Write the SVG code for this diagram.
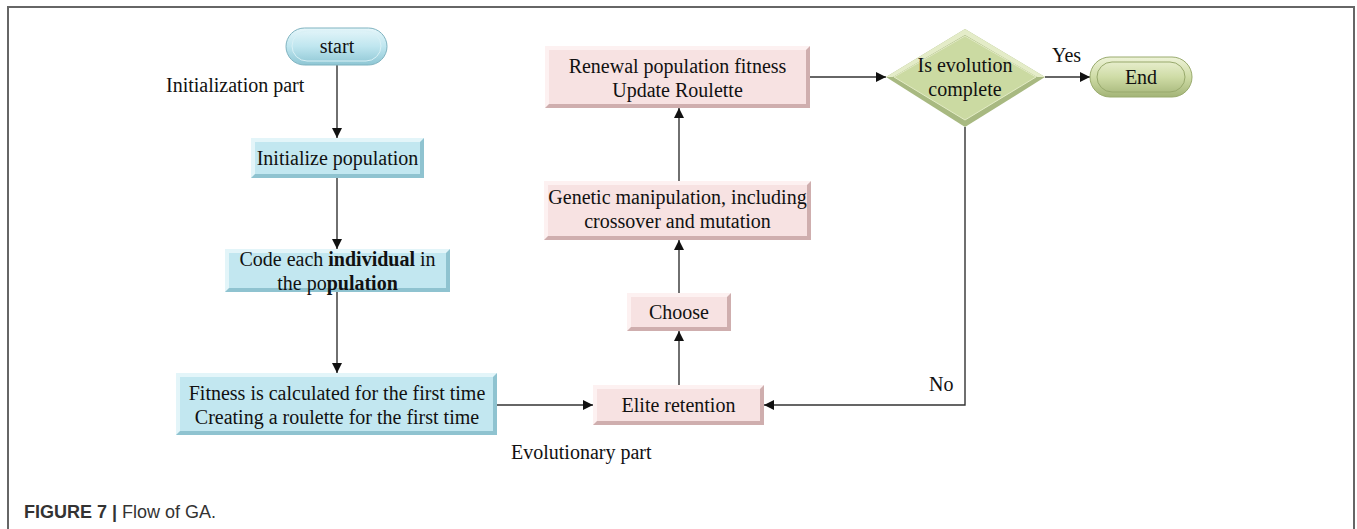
<svg xmlns="http://www.w3.org/2000/svg" width="1357" height="529" viewBox="0 0 1357 529">
  <defs>
    <marker id="arrow" viewBox="0 0 10 10" refX="10" refY="5" markerWidth="10" markerHeight="10" markerUnits="userSpaceOnUse" orient="auto">
      <path d="M0,0 L10,5 L0,10 z" fill="#111"/>
    </marker>
    <linearGradient id="pillBlue" x1="0" y1="0" x2="0" y2="1">
      <stop offset="0" stop-color="#e6f6fa"/>
      <stop offset="0.5" stop-color="#bfe6ef"/>
      <stop offset="1" stop-color="#8ec6d4"/>
    </linearGradient>
    <linearGradient id="pillGreen" x1="0" y1="0" x2="0" y2="1">
      <stop offset="0" stop-color="#eef3d8"/>
      <stop offset="0.5" stop-color="#cfdca6"/>
      <stop offset="1" stop-color="#a3b477"/>
    </linearGradient>
  </defs>
  <style>
    text { font-family: "Liberation Serif", "Times New Roman", serif; font-size: 20px; fill: #111; }
    .c { text-anchor: middle; }
    .b { font-weight: bold; }
    .cap { font-family: "Liberation Sans", Arial, sans-serif; font-size: 18px; fill: #333; }
    .frame { fill: none; stroke: #666; stroke-width: 2; }
    .conn { fill: none; stroke: #333; stroke-width: 1.4; }
    .blueDark { fill: #8fc3d0; }
    .blueLight { fill: #e3f5f9; }
    .blueFace { fill: #c2e7f0; }
    .pinkDark { fill: #cfaeae; }
    .pinkLight { fill: #fdf1f1; }
    .pinkFace { fill: #f7e2e2; }
  </style>

  <rect width="1357" height="529" fill="#ffffff"/>
  <!-- open frame around the figure -->
  <path class="frame" d="M8,529 V7 H1354 V529"/>

  <!-- free labels -->
  <text x="166" y="92">Initialization part</text>
  <text x="511" y="459">Evolutionary part</text>
  <text x="1052" y="62">Yes</text>
  <text x="929" y="391">No</text>

  <!-- connectors -->
  <g id="connectors">
    <line class="conn" x1="337" y1="65" x2="337" y2="138" marker-end="url(#arrow)"/>
    <line class="conn" x1="337" y1="178" x2="337" y2="249" marker-end="url(#arrow)"/>
    <line class="conn" x1="337" y1="292" x2="337" y2="373" marker-end="url(#arrow)"/>
    <line class="conn" x1="497" y1="405" x2="593" y2="405" marker-end="url(#arrow)"/>
    <line class="conn" x1="679" y1="385" x2="679" y2="331" marker-end="url(#arrow)"/>
    <line class="conn" x1="679" y1="293" x2="679" y2="240" marker-end="url(#arrow)"/>
    <line class="conn" x1="679" y1="181" x2="679" y2="108" marker-end="url(#arrow)"/>
    <line class="conn" x1="810" y1="77" x2="886" y2="77" marker-end="url(#arrow)"/>
    <line class="conn" x1="1045" y1="77" x2="1090" y2="77" marker-end="url(#arrow)"/>
    <polyline class="conn" points="965,127 965,405 764,405" marker-end="url(#arrow)"/>
  </g>

  <!-- start terminal -->
  <g id="start">
    <rect x="286" y="28" width="101" height="37" rx="18.5" fill="url(#pillBlue)" stroke="#7fb3c0" stroke-width="1"/>
    <rect x="292" y="31" width="89" height="30" rx="15" fill="none" stroke="#d9f1f6" stroke-width="1"/>
    <text class="c" x="337" y="53">start</text>
  </g>

  <!-- Initialize population -->
  <g id="init-pop">
    <rect class="blueDark" x="251" y="138" width="173" height="40"/>
    <polygon class="blueLight" points="251,138 424,138 420,142 255,142 255,174 251,178"/>
    <rect class="blueFace" x="255" y="142" width="165" height="32"/>
    <text class="c" x="337.5" y="165">Initialize population</text>
  </g>

  <!-- Code each individual -->
  <g id="code-ind">
    <rect class="blueDark" x="225" y="249" width="225" height="43"/>
    <polygon class="blueLight" points="225,249 450,249 446,253 229,253 229,288 225,292"/>
    <rect class="blueFace" x="229" y="253" width="217" height="35"/>
    <text class="c" x="337.5" y="266">Code each <tspan class="b">individual</tspan> in</text>
    <text class="c" x="337.5" y="290">the po<tspan class="b">pulation</tspan></text>
  </g>

  <!-- First fitness calculation -->
  <g id="first-fitness">
    <rect class="blueDark" x="176" y="373" width="321" height="62"/>
    <polygon class="blueLight" points="176,373 497,373 493,377 180,377 180,431 176,435"/>
    <rect class="blueFace" x="180" y="377" width="313" height="54"/>
    <text class="c" x="337" y="400">Fitness is calculated for the first time</text>
    <text class="c" x="337" y="424">Creating a roulette for the first time</text>
  </g>

  <!-- Elite retention -->
  <g id="elite">
    <rect class="pinkDark" x="593" y="385" width="171" height="40"/>
    <polygon class="pinkLight" points="593,385 764,385 760,389 597,389 597,421 593,425"/>
    <rect class="pinkFace" x="597" y="389" width="163" height="32"/>
    <text class="c" x="678.5" y="412">Elite retention</text>
  </g>

  <!-- Choose -->
  <g id="choose">
    <rect class="pinkDark" x="627" y="293" width="104" height="38"/>
    <polygon class="pinkLight" points="627,293 731,293 727,297 631,297 631,327 627,331"/>
    <rect class="pinkFace" x="631" y="297" width="96" height="30"/>
    <text class="c" x="679" y="319">Choose</text>
  </g>

  <!-- Genetic manipulation -->
  <g id="genetic">
    <rect class="pinkDark" x="544" y="181" width="267" height="59"/>
    <polygon class="pinkLight" points="544,181 811,181 807,185 548,185 548,236 544,240"/>
    <rect class="pinkFace" x="548" y="185" width="259" height="51"/>
    <text class="c" x="677.5" y="204">Genetic manipulation, including</text>
    <text class="c" x="677.5" y="228">crossover and mutation</text>
  </g>

  <!-- Renewal population fitness -->
  <g id="renewal">
    <rect class="pinkDark" x="545" y="46" width="265" height="62"/>
    <polygon class="pinkLight" points="545,46 810,46 806,50 549,50 549,104 545,108"/>
    <rect class="pinkFace" x="549" y="50" width="257" height="54"/>
    <text class="c" x="677.5" y="73">Renewal population fitness</text>
    <text class="c" x="677.5" y="97">Update Roulette</text>
  </g>

  <!-- Decision -->
  <g id="decision">
    <polygon points="965,29 1045,77 965,127 886,77" fill="#a8b981"/>
    <polygon points="965,29 1045,77 1037,77 965,35 893,77 886,77" fill="#e4ecc8"/>
    <polygon points="965,36 1036,77 965,120 894,77" fill="#cbdaa2" stroke="#e3ebc6" stroke-width="1"/>
    <text class="c" x="965" y="72">Is evolution</text>
    <text class="c" x="965" y="96">complete</text>
  </g>

  <!-- End terminal -->
  <g id="end">
    <rect x="1090" y="57" width="102" height="40" rx="20" fill="url(#pillGreen)" stroke="#9aab6e" stroke-width="1"/>
    <rect x="1097" y="62" width="88" height="30" rx="15" fill="none" stroke="#98a96c" stroke-width="1"/>
    <text class="c" x="1141" y="84">End</text>
  </g>

  <!-- caption -->
  <text class="cap" x="24" y="518"><tspan font-weight="bold">FIGURE 7 |</tspan> Flow of GA.</text>
</svg>
